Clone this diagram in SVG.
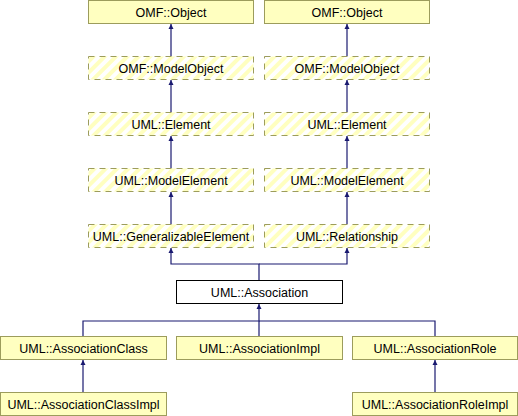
<svg xmlns="http://www.w3.org/2000/svg" width="518" height="416" viewBox="0 0 518 416">
<defs>
<pattern id="hatch" patternUnits="userSpaceOnUse" width="8" height="8" patternTransform="rotate(45)">
<rect width="8" height="8" fill="#ffffff"/>
<rect width="4" height="8" fill="#ffffc0"/>
</pattern>
<marker id="ah" viewBox="0 0 10 10" refX="10" refY="5" markerWidth="5" markerHeight="6" markerUnits="userSpaceOnUse" orient="auto">
<path d="M0,0 L10,5 L0,10 z" fill="#191970"/>
</marker>
</defs>
<style>
.solid{fill:#ffffc0;stroke:#9c9c5c;stroke-width:1}
.dash{fill:url(#hatch);stroke:#9c9c5c;stroke-width:1;stroke-dasharray:6,5}
.main{fill:#ffffff;stroke:#000000;stroke-width:1}
text{font-family:"Liberation Sans",Arial,sans-serif;font-size:12.5px;fill:#000;text-anchor:middle}
.edge{fill:none;stroke:#191970;stroke-width:1.2}
</style>
<g id="connectors">
<path class="edge" d="M171,56 V24" marker-end="url(#ah)"/>
<path class="edge" d="M171,112 V80" marker-end="url(#ah)"/>
<path class="edge" d="M171,168 V136" marker-end="url(#ah)"/>
<path class="edge" d="M171,224 V192" marker-end="url(#ah)"/>
<path class="edge" d="M347,56 V24" marker-end="url(#ah)"/>
<path class="edge" d="M347,112 V80" marker-end="url(#ah)"/>
<path class="edge" d="M347,168 V136" marker-end="url(#ah)"/>
<path class="edge" d="M347,224 V192" marker-end="url(#ah)"/>
<path class="edge" d="M259,280 V264 H171 V248" marker-end="url(#ah)"/>
<path class="edge" d="M259,264 H347 V248" marker-end="url(#ah)"/>
<path class="edge" d="M83,336 V321 H259 V304" marker-end="url(#ah)"/>
<path class="edge" d="M259,336 V321"/>
<path class="edge" d="M435,336 V321 H259"/>
<path class="edge" d="M83,392 V360" marker-end="url(#ah)"/>
<path class="edge" d="M435,392 V360" marker-end="url(#ah)"/>
</g>
<g id="n_omf_object_l"><rect class="solid" x="88.5" y="0.5" width="165" height="23"/><text x="171" y="16.5">OMF::Object</text></g>
<g id="n_omf_object_r"><rect class="solid" x="264.5" y="0.5" width="165" height="23"/><text x="347" y="16.5">OMF::Object</text></g>
<g id="n_modelobject_l"><rect class="dash" x="88.5" y="56.5" width="165" height="23"/><text x="171" y="72.5">OMF::ModelObject</text></g>
<g id="n_modelobject_r"><rect class="dash" x="264.5" y="56.5" width="165" height="23"/><text x="347" y="72.5">OMF::ModelObject</text></g>
<g id="n_element_l"><rect class="dash" x="88.5" y="112.5" width="165" height="23"/><text x="171" y="128.5">UML::Element</text></g>
<g id="n_element_r"><rect class="dash" x="264.5" y="112.5" width="165" height="23"/><text x="347" y="128.5">UML::Element</text></g>
<g id="n_modelelement_l"><rect class="dash" x="88.5" y="168.5" width="165" height="23"/><text x="171" y="184.5">UML::ModelElement</text></g>
<g id="n_modelelement_r"><rect class="dash" x="264.5" y="168.5" width="165" height="23"/><text x="347" y="184.5">UML::ModelElement</text></g>
<g id="n_generalizable"><rect class="dash" x="88.5" y="224.5" width="165" height="23"/><text x="171" y="240.5">UML::GeneralizableElement</text></g>
<g id="n_relationship"><rect class="dash" x="264.5" y="224.5" width="165" height="23"/><text x="347" y="240.5">UML::Relationship</text></g>
<g id="n_association"><rect class="main" x="176.5" y="280.5" width="166" height="23"/><text x="259.5" y="296.5">UML::Association</text></g>
<g id="n_assocclass"><rect class="solid" x="0.5" y="336.5" width="166" height="23"/><text x="83.5" y="352.5">UML::AssociationClass</text></g>
<g id="n_associmpl"><rect class="solid" x="176.5" y="336.5" width="166" height="23"/><text x="259.5" y="352.5">UML::AssociationImpl</text></g>
<g id="n_assocrole"><rect class="solid" x="352.5" y="336.5" width="165" height="23"/><text x="435" y="352.5">UML::AssociationRole</text></g>
<g id="n_assocclassimpl"><rect class="solid" x="0.5" y="392.5" width="166" height="23"/><text x="83.5" y="408.5">UML::AssociationClassImpl</text></g>
<g id="n_assocroleimpl"><rect class="solid" x="352.5" y="392.5" width="165" height="23"/><text x="435" y="408.5">UML::AssociationRoleImpl</text></g>
</svg>
